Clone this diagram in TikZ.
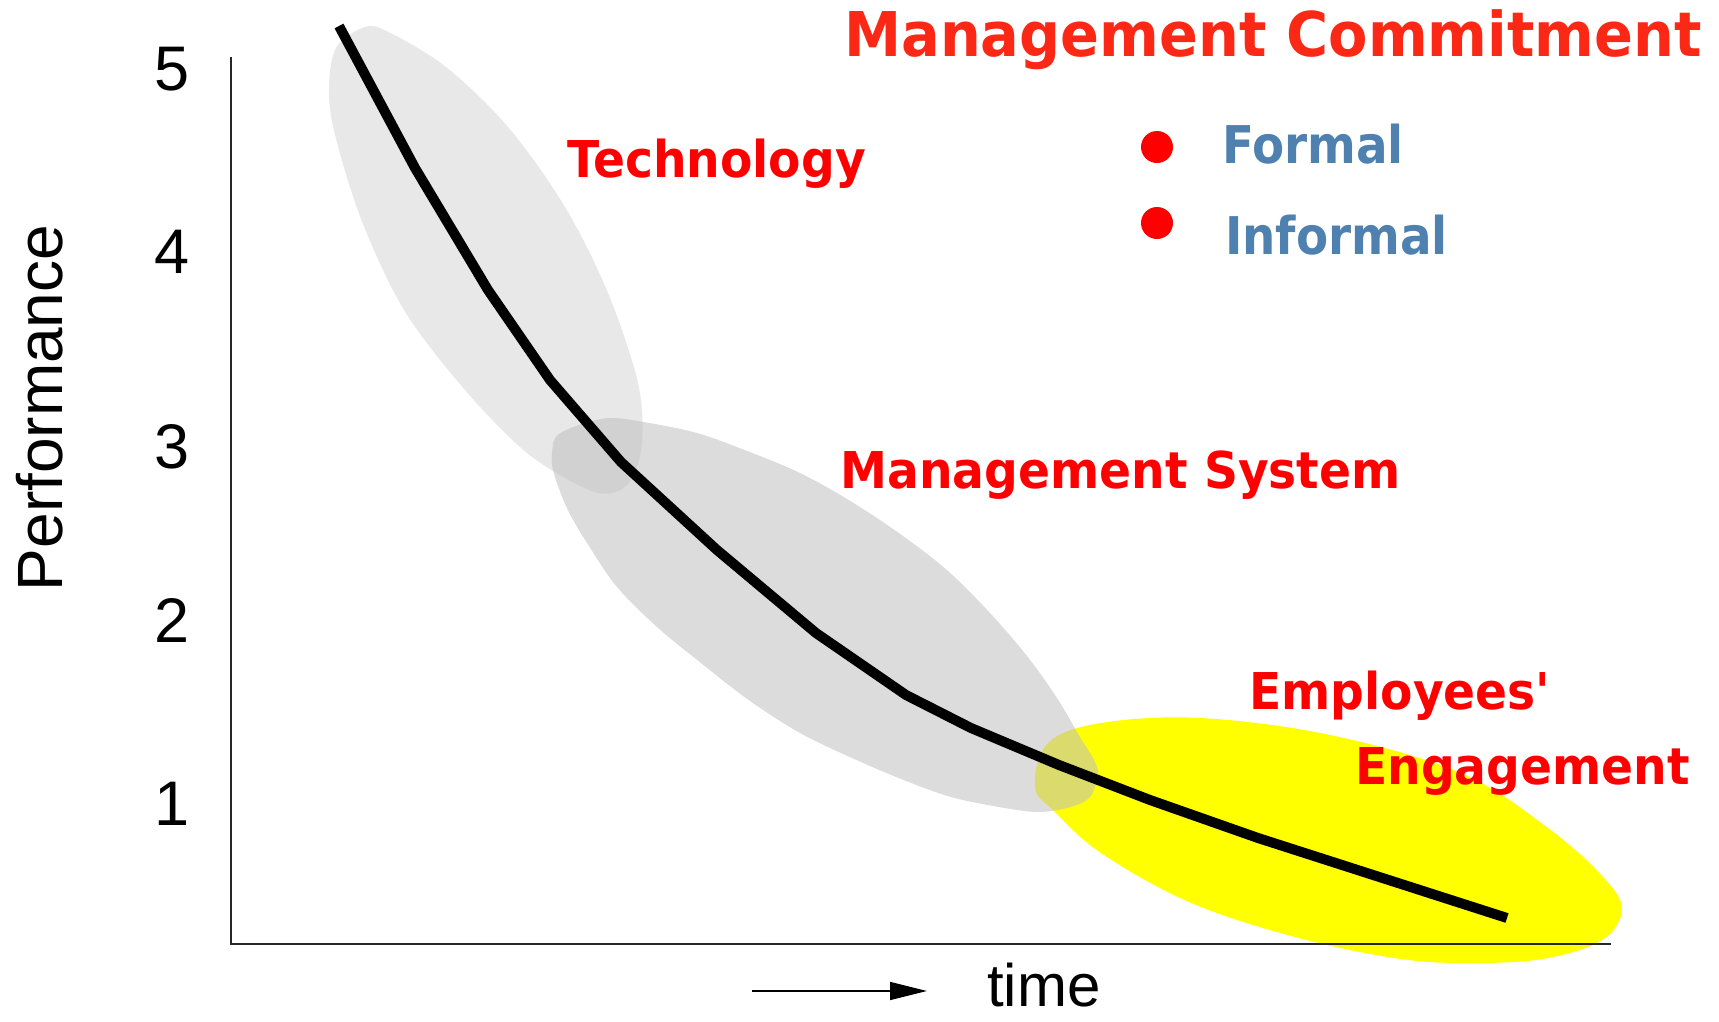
\documentclass[tikz,border=0pt]{standalone}
\usepackage{fontspec}
\setmainfont{Liberation Sans}
\newfontfamily\lab[FakeStretch=0.93]{DejaVu Sans}
\newfontfamily\labb[FakeStretch=0.9]{DejaVu Sans}
\usetikzlibrary{arrows.meta}
\definecolor{mcred}{RGB}{250,40,20}
\definecolor{lred}{RGB}{255,0,0}
\definecolor{lblue}{RGB}{79,129,176}
\definecolor{gA}{RGB}{232,232,232}
\definecolor{gB}{RGB}{193,193,193}
\definecolor{yel}{RGB}{255,255,0}
\begin{document}
\begin{tikzpicture}[x=1pt,y=-1pt,
  num/.style={font=\fontsize{63}{63}\selectfont, anchor=base, inner sep=0pt},
  redlab/.style={font=\lab\bfseries\fontsize{50.75}{51}\selectfont, text=lred, anchor=base west, inner sep=0pt},
  bluelab/.style={font=\labb\bfseries\fontsize{52}{52}\selectfont, text=lblue, anchor=base west, inner sep=0pt},
  dot/.style={circle, fill=lred, minimum size=32pt, inner sep=0pt},
  axis/.style={line width=1.8pt, black!85},
  curve/.style={line width=10pt, line join=round, line cap=butt}]
\useasboundingbox (0,0) rectangle (1719,1021);

% blobs
\fill[yel] plot[smooth cycle, tension=0.6] coordinates {(1035,787) (1048,743) (1101,723) (1200,718) (1330,735) (1461,773) (1548,828) (1604,878) (1622,910) (1602,940) (1548,958) (1480,963) (1401,959) (1295,937) (1189,902) (1101,853) (1055,812)};
\fill[gA] plot[smooth cycle, tension=0.55] coordinates {(365,27) (388.5,32) (446,67) (508,127) (565,207) (608,293) (638,383) (642,443) (631,480) (611.5,493) (584.6,488) (527,453) (465,390) (404,310) (361.5,220) (334.6,133) (329,87) (336.5,47)};
\fill[gB, fill opacity=0.57] plot[smooth cycle, tension=0.55] coordinates {(559.8,433.3) (605.5,418.3) (649,423) (697,433) (744.6,450) (800,473) (852,502) (903,536) (948,571) (990,613) (1027,656) (1057,698) (1080,737) (1094,760) (1098,775) (1090,797) (1070.5,807) (1038.7,812) (999,807) (951,797) (903.6,780) (852,758) (800,733) (748.6,700) (701,663) (657,627) (617,587) (589.6,547) (567.8,510) (553.8,473) (552,453)};

% axes
\coordinate (ytop) at (231,57);
\coordinate (orig) at (231,944);
\coordinate (xend) at (1611,944);
\draw[axis] (ytop) -- (orig) -- (xend);

% tick numbers
\node[num] (n5) at (172,90) {5};
\node[num] (n4) at (172,273) {4};
\node[num] (n3) at (172,468) {3};
\node[num] (n2) at (172,642) {2};
\node[num] (n1) at (172,825) {1};
\node[font=\fontsize{64}{64}\selectfont, rotate=90, anchor=base, inner sep=0pt] (perf) at (62,408) {Performance};

% time arrow
\coordinate (ta) at (752,991);
\coordinate (tb) at (927,991);
\draw[line width=1.6pt, -{Triangle[length=37pt,width=18pt]}] (ta) -- (tb);
\node[font=\fontsize{60}{60}\selectfont, anchor=base west, inner sep=0pt] (time) at (987,1006) {time};

% curve
\draw[curve] (339,26) -- (415,168) -- (488,290) -- (550,380) -- (621,462) -- (717,550) -- (816,633) -- (906,695) -- (971,728) -- (1059,765) -- (1150,800) -- (1258,838) -- (1507,918);

% labels
\node[font=\lab\bfseries\fontsize{61.7}{62}\selectfont, text=mcred, anchor=base west, inner sep=0pt] (mc) at (844,56.7) {Management Commitment};
\node[redlab] (tech) at (567,177) {Technology};
\node[redlab] (ms) at (840,488) {Management System};
\node[redlab] (emp) at (1249,709) {Employees'};
\node[redlab] (eng) at (1355,784) {Engagement};
\node[dot] (d1) at (1157,147) {};
\node[dot] (d2) at (1157,223) {};
\node[bluelab] (formal) at (1222,163) {Formal};
\node[bluelab] (informal) at (1225,254) {Informal};
\end{tikzpicture}
\end{document}
